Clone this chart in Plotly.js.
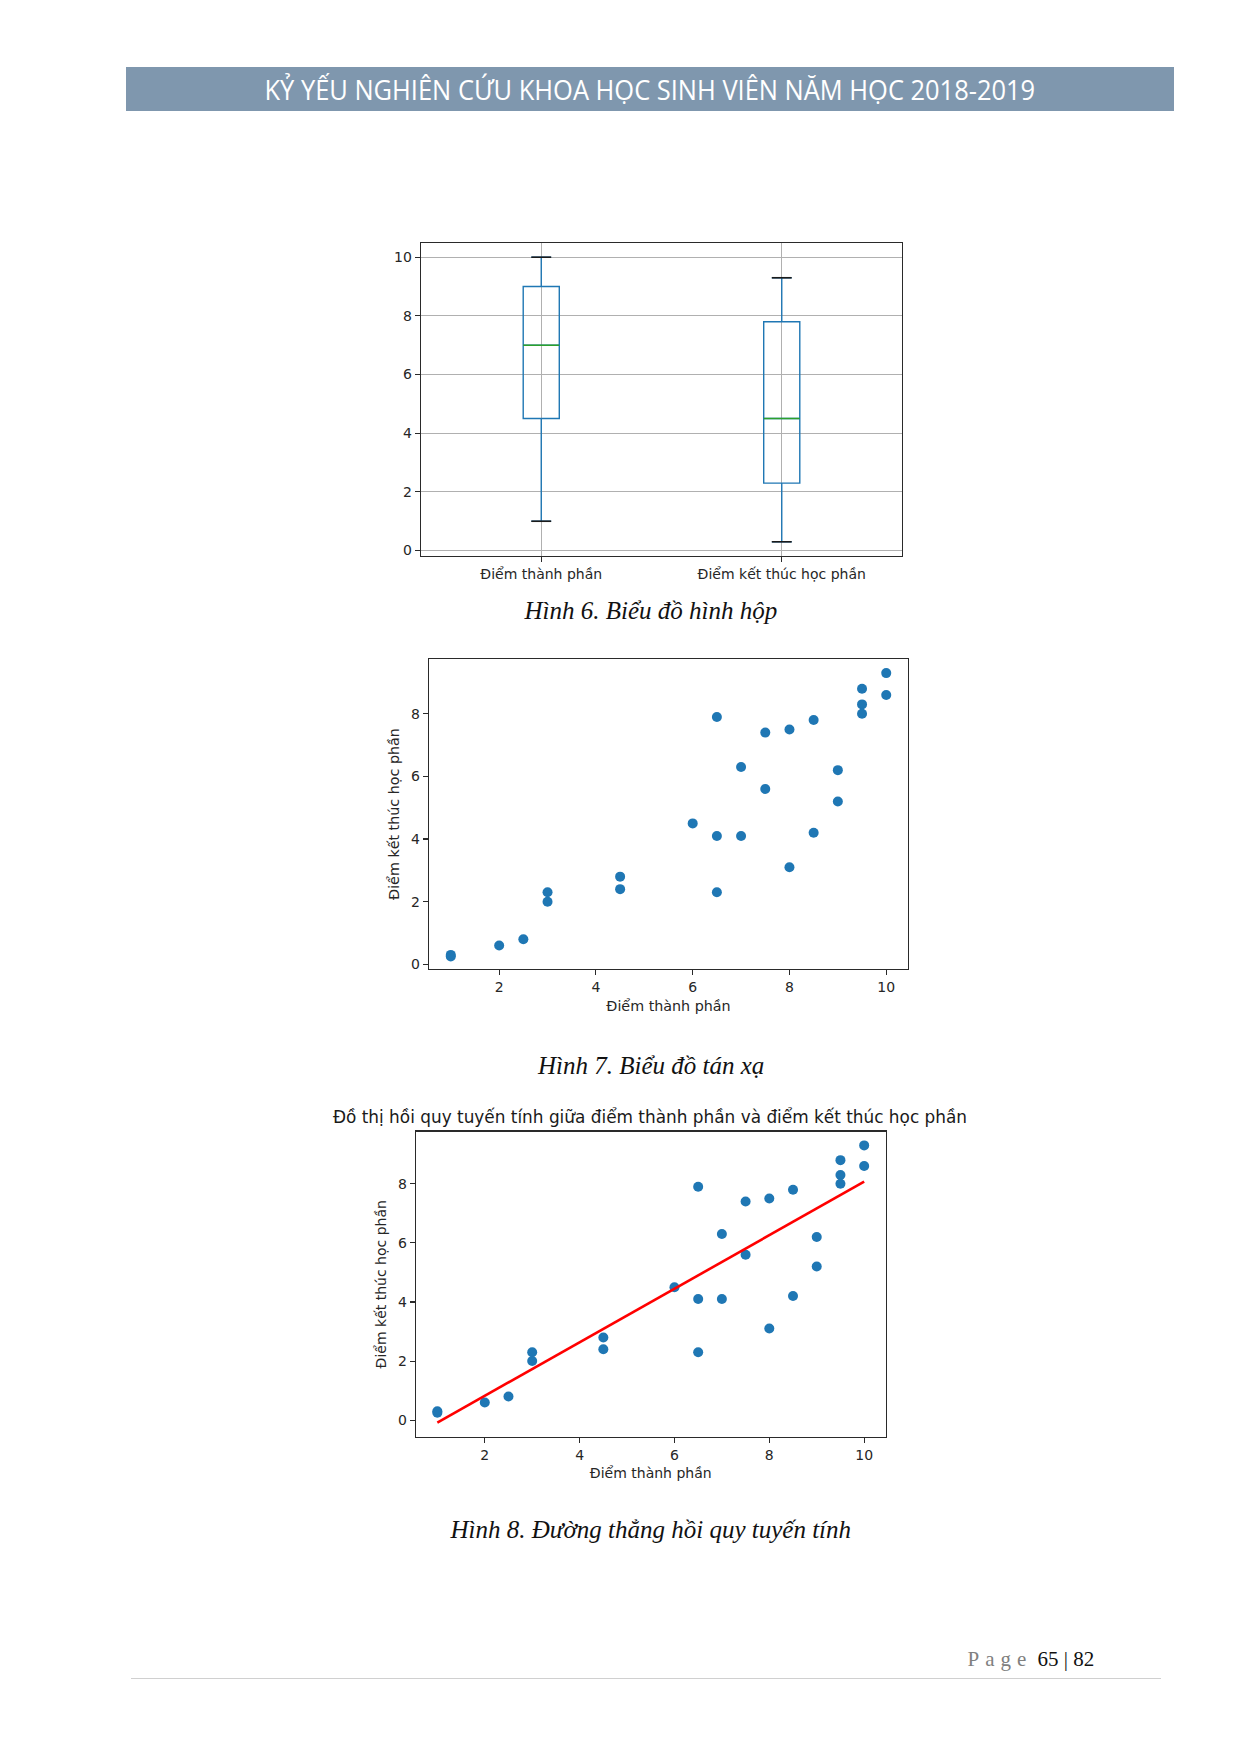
<!DOCTYPE html>
<html>
<head>
<meta charset="utf-8">
<script src="https://cdn.plot.ly/plotly-3.0.1.min.js"></script>
<style>
  html, body { margin:0; padding:0; background:#fff; }
  #page { position:relative; width:1240px; height:1753px; overflow:hidden; background:#fff; }
  #chart { position:absolute; left:0; top:0; width:1240px; height:1753px; }
  .txt { position:absolute; white-space:nowrap; pointer-events:none; z-index:5; }
  #headerBar { position:absolute; left:126px; top:67px; width:1048px; height:44px; background:#7f97ae; z-index:4; }
  #footerLine { position:absolute; left:131px; top:1678px; width:1030px; height:1px; background:#d0d0d0; z-index:4; }
</style>
</head>
<body>
<div id="page">
  <div id="headerBar"></div>
  <div id="chart"></div>
  <div id="headerText" class="txt"></div>
  <div id="cap6" class="txt"></div>
  <div id="cap7" class="txt"></div>
  <div id="cap8" class="txt"></div>
  <div id="footerText" class="txt"></div>
  <div id="footerLine"></div>
</div>
<script>
// ---------------- DATA ----------------
const headerTitle = 'KỶ YẾU NGHIÊN CỨU KHOA HỌC SINH VIÊN NĂM HỌC 2018-2019';
const captions = ['Hình 6. Biểu đồ hình hộp', 'Hình 7. Biểu đồ tán xạ', 'Hình 8. Đường thẳng hồi quy tuyến tính'];
const regressionTitle = 'Đồ thị hồi quy tuyến tính giữa điểm thành phần và điểm kết thúc học phần';
const xLabel = 'Điểm thành phần';
const yLabel = 'Điểm kết thúc học phần';

// Box plot statistics (Hình 6)
const boxCategories = ['Điểm thành phần', 'Điểm kết thúc học phần'];
const boxPositions = [1, 2];
const boxMin = [1, 0.3];
const boxQ1 = [4.5, 2.3];
const boxMedian = [7, 4.5];
const boxQ3 = [9, 7.8];
const boxMax = [10, 9.3];

// Scatter data (Hình 7, Hình 8)
const scoreComponent = [1, 1, 2, 2.5, 3, 3, 4.5, 4.5, 6, 6.5, 6.5, 6.5, 7, 7, 7.5, 7.5, 8, 8, 8.5, 8.5, 9, 9, 9.5, 9.5, 9.5, 10, 10];
const scoreFinal     = [0.3, 0.25, 0.6, 0.8, 2.3, 2.0, 2.8, 2.4, 4.5, 7.9, 4.1, 2.3, 6.3, 4.1, 7.4, 5.6, 7.5, 3.1, 7.8, 4.2, 6.2, 5.2, 8.8, 8.3, 8.0, 9.3, 8.6];

// Regression line
const regX = [1, 10];
const regY = [-0.08, 8.07];

const xTicks = [2, 4, 6, 8, 10];
const yTicksBox = [0, 2, 4, 6, 8, 10];
const yTicksScatter = [0, 2, 4, 6, 8];
const pageNo = '65';
const pageTotal = '82';

// ---------------- LAYOUT HELPERS ----------------
const W = 1240, H = 1753;
const dx = (a, b) => [a / W, b / W];
const dy = (top, bottom) => [1 - bottom / H, 1 - top / H];

const BLUE = '#1f77b4';
const tickFont = { family: 'DejaVu Sans, sans-serif', size: 14, color: '#262626' };
const baseAxis = {
  showline: true, mirror: true, linecolor: '#2a2a2a', linewidth: 1.4,
  ticks: 'outside', ticklen: 5, tickwidth: 1.1, tickcolor: '#2a2a2a',
  tickfont: tickFont, zeroline: false, showgrid: false, fixedrange: true
};
function ax(extra) { return Object.assign({}, baseAxis, extra); }

const boxW = 0.15;
const capFrac = 0.55;
const traces = [];

// Box plot
traces.push({
  type: 'box', xaxis: 'x', yaxis: 'y',
  x: boxPositions, q1: boxQ1, median: boxMedian, q3: boxQ3,
  lowerfence: boxMin, upperfence: boxMax,
  width: boxW, whiskerwidth: capFrac,
  line: { color: BLUE, width: 1.4 }, fillcolor: 'rgba(0,0,0,0)',
  boxpoints: false, hoverinfo: 'skip'
});
// Median lines (green) and caps (black)
const medX = [], medY = [], capX = [], capY = [];
boxPositions.forEach((p, i) => {
  medX.push(p - boxW / 2, p + boxW / 2, null); medY.push(boxMedian[i], boxMedian[i], null);
  [boxMin[i], boxMax[i]].forEach(v => { capX.push(p - boxW * capFrac / 2, p + boxW * capFrac / 2, null); capY.push(v, v, null); });
});
traces.push({ type: 'scatter', mode: 'lines', xaxis: 'x', yaxis: 'y', x: medX, y: medY, line: { color: '#2ca02c', width: 1.4 }, hoverinfo: 'skip' });
traces.push({ type: 'scatter', mode: 'lines', xaxis: 'x', yaxis: 'y', x: capX, y: capY, line: { color: '#1a1a1a', width: 1.6 }, hoverinfo: 'skip' });

// Scatter (Hình 7)
traces.push({ type: 'scatter', mode: 'markers', xaxis: 'x2', yaxis: 'y2', x: scoreComponent, y: scoreFinal, marker: { color: BLUE, size: 10 }, hoverinfo: 'skip' });

// Regression (Hình 8)
traces.push({ type: 'scatter', mode: 'markers', xaxis: 'x3', yaxis: 'y3', x: scoreComponent, y: scoreFinal, marker: { color: BLUE, size: 10 }, hoverinfo: 'skip' });
traces.push({ type: 'scatter', mode: 'lines', xaxis: 'x3', yaxis: 'y3', x: regX, y: regY, line: { color: '#ff0000', width: 2.6 }, hoverinfo: 'skip' });

const titleFont2 = { family: 'DejaVu Sans, sans-serif', size: 14.3, color: '#262626' };
const titleFont3 = { family: 'DejaVu Sans, sans-serif', size: 14, color: '#262626' };

const layout = {
  width: W, height: H,
  margin: { l: 0, r: 0, t: 0, b: 0 },
  paper_bgcolor: 'rgba(0,0,0,0)', plot_bgcolor: '#ffffff',
  showlegend: false,
  title: { text: regressionTitle, x: 650 / W, y: 1 - 1117 / H, xanchor: 'center', yanchor: 'middle',
           font: { family: 'DejaVu Sans, sans-serif', size: 16.9, color: '#1a1a1a' } },
  xaxis: ax({ domain: dx(421, 902), anchor: 'y', range: [0.5, 2.5], tickvals: boxPositions, ticktext: boxCategories,
              showgrid: true, gridcolor: '#b0b0b0', gridwidth: 1 }),
  yaxis: ax({ domain: dy(243, 556), anchor: 'x', range: [-0.185, 10.485], tickvals: yTicksBox,
              showgrid: true, gridcolor: '#b0b0b0', gridwidth: 1 }),
  xaxis2: ax({ domain: dx(429, 908), anchor: 'y2', range: [0.55, 10.45], tickvals: xTicks,
               title: { text: xLabel, font: titleFont2, standoff: 6 } }),
  yaxis2: ax({ domain: dy(659, 969), anchor: 'x2', range: [-0.15, 9.75], tickvals: yTicksScatter,
               title: { text: yLabel, font: titleFont2, standoff: 8 } }),
  xaxis3: ax({ domain: dx(416, 885.5), anchor: 'y3', range: [0.55, 10.45], tickvals: xTicks,
               title: { text: xLabel, font: titleFont3, standoff: 6 } }),
  yaxis3: ax({ domain: dy(1131.5, 1437), anchor: 'x3', range: [-0.57, 9.77], tickvals: yTicksScatter,
               title: { text: yLabel, font: titleFont3, standoff: 8 } })
};

Plotly.newPlot('chart', traces, layout, { staticPlot: true, displayModeBar: false });

// ---------------- TEXT OVERLAYS ----------------
function place(id, html, cx, cy, style, fitWidth) {
  const el = document.getElementById(id);
  el.innerHTML = html;
  Object.assign(el.style, style);
  const w = el.offsetWidth, h = el.offsetHeight;
  let sx = 1;
  if (fitWidth) sx = fitWidth / w;
  el.style.left = (cx - w / 2) + 'px';
  el.style.top = (cy - h / 2) + 'px';
  el.style.transform = 'scaleX(' + sx + ')';
}
place('headerText', headerTitle, 650, 89,
  { fontFamily: "'Liberation Sans Narrow', 'Open Sans', sans-serif", fontSize: '27px', color: '#ffffff', lineHeight: '1' }, 771);
const capStyle = { fontFamily: "'Liberation Serif', 'Times New Roman', serif", fontStyle: 'italic', fontSize: '25px', color: '#111', lineHeight: '1' };
place('cap6', captions[0], 651, 610, capStyle);
place('cap7', captions[1], 651, 1065, capStyle);
place('cap8', captions[2], 651, 1529, capStyle);
place('footerText', '<span style="color:#808080;letter-spacing:6px">Page</span> <span style="color:#111">' + pageNo + ' | ' + pageTotal + '</span>',
  1031, 1659, { fontFamily: "'Liberation Serif', 'Times New Roman', serif", fontSize: '21px', lineHeight: '1' });
</script>
</body>
</html>
